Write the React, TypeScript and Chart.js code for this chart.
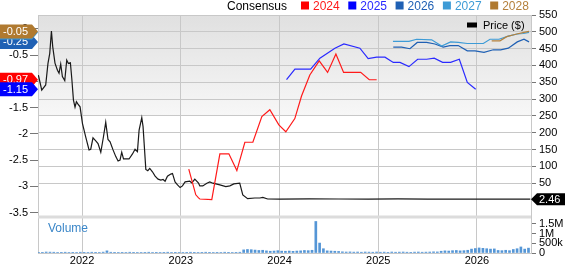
import React, { useEffect, useRef } from 'react';
import { Chart, registerables } from 'chart.js';

Chart.register(...registerables);

const FONT = '"Liberation Sans", Arial, Helvetica, sans-serif';

// ---- data (x values are decimal years) ----
const priceX = [2021.558, 2021.592, 2021.632, 2021.655, 2021.673, 2021.690, 2021.703, 2021.726, 2021.751, 2021.767, 2021.784, 2021.801, 2021.825, 2021.845, 2021.862, 2021.882, 2021.896, 2021.913, 2021.929, 2021.943, 2021.959, 2021.980, 2022.004, 2022.037, 2022.071, 2022.088, 2022.111, 2022.139, 2022.162, 2022.190, 2022.217, 2022.240, 2022.263, 2022.284, 2022.314, 2022.342, 2022.365, 2022.385, 2022.402, 2022.420, 2022.443, 2022.476, 2022.511, 2022.537, 2022.561, 2022.578, 2022.605, 2022.618, 2022.646, 2022.666, 2022.686, 2022.713, 2022.740, 2022.770, 2022.798, 2022.821, 2022.841, 2022.865, 2022.899, 2022.916, 2022.942, 2022.967, 2022.993, 2023.017, 2023.044, 2023.091, 2023.112, 2023.142, 2023.180, 2023.193, 2023.223, 2023.264, 2023.294, 2023.325, 2023.396, 2023.456, 2023.497, 2023.537, 2023.597, 2023.628, 2023.677, 2023.750, 2023.801, 2023.831, 2023.880, 2024.002, 2024.300, 2024.600, 2024.900, 2025.200, 2025.500, 2025.800, 2026.100, 2026.350, 2026.540];
const priceY = [371, 327, 342, 406, 436, 502, 456, 407, 386, 377, 404, 367, 355, 416, 406, 408, 362, 297, 276, 292, 285, 277, 228, 188, 149, 151, 185, 176, 168, 142, 188, 231, 180, 173, 149, 129, 116, 119, 142, 122, 122, 122, 137, 151, 144, 208, 245, 218, 91, 87, 94, 84, 71, 62, 59, 61, 56, 71, 77, 79, 54, 45, 37, 42, 54, 56, 51, 62, 50, 42, 42, 50, 54, 50, 45, 40, 42, 48, 50, 15, 4, 6, 6, 8, 3, 2.5, 3.2, 3.0, 2.8, 3.1, 2.9, 2.6, 2.7, 2.5, 2.46];

const eps2024X = [2023.081, 2023.152, 2023.180, 2023.193, 2023.314, 2023.396, 2023.487, 2023.568, 2023.649, 2023.730, 2023.821, 2023.902, 2023.993, 2024.064, 2024.155, 2024.223, 2024.307, 2024.402, 2024.487, 2024.571, 2024.649, 2024.822, 2024.909, 2024.984];
const eps2024Y = [-2.67, -3.16, -3.22, -3.24, -3.25, -2.38, -2.38, -2.70, -2.16, -2.16, -1.67, -1.54, -1.83, -1.96, -1.71, -1.28, -0.88, -0.61, -0.83, -0.48, -0.83, -0.83, -0.97, -0.97];

const eps2025X = [2024.071, 2024.156, 2024.315, 2024.409, 2024.561, 2024.652, 2024.814, 2024.898, 2024.984, 2025.068, 2025.152, 2025.220, 2025.311, 2025.399, 2025.490, 2025.567, 2025.652, 2025.733, 2025.821, 2025.902, 2025.987];
const eps2025Y = [-0.97, -0.77, -0.77, -0.56, -0.37, -0.29, -0.37, -0.57, -0.54, -0.54, -0.64, -0.64, -0.72, -0.58, -0.58, -0.56, -0.64, -0.64, -0.58, -1.02, -1.15];

const eps2026X = [2025.152, 2025.237, 2025.321, 2025.395, 2025.490, 2025.574, 2025.658, 2025.726, 2025.810, 2025.902, 2025.980, 2026.071, 2026.165, 2026.240, 2026.317, 2026.408, 2026.476, 2026.527];
const eps2026Y = [-0.35, -0.35, -0.38, -0.26, -0.26, -0.29, -0.35, -0.32, -0.32, -0.42, -0.42, -0.45, -0.40, -0.40, -0.37, -0.25, -0.20, -0.25];

const eps2027X = [2025.149, 2025.311, 2025.389, 2025.541, 2025.642, 2025.733, 2025.810, 2025.902, 2025.997, 2026.064, 2026.132, 2026.223, 2026.317, 2026.408, 2026.469, 2026.527];
const eps2027Y = [-0.24, -0.24, -0.20, -0.21, -0.33, -0.25, -0.26, -0.28, -0.28, -0.28, -0.20, -0.20, -0.14, -0.10, -0.09, -0.07];

const eps2028X = [2026.149, 2026.233, 2026.301, 2026.402, 2026.476, 2026.527];
const eps2028Y = [-0.23, -0.23, -0.15, -0.10, -0.07, -0.05];

// volume, one value (thousands of shares) per two-week period from volStart
const volStart = 2021.56;
const volPeriodsPerYear = 26;
const volumeK = [
  40, 35, 50, 45, 40, 30, 35, 40, 30, 35, 30, 40, 35, 30, 40, 35, 30, 45,
  110,
  40, 35, 30, 35, 30, 40, 35, 30, 30, 35, 40, 30, 35, 30, 35, 40, 30, 35, 30, 30,
  35, 40, 35, 30, 35, 40, 35, 30, 35, 30, 40, 35, 30, 35, 40,
  160, 180, 170, 150, 130, 140,
  110, 90, 100, 120, 95, 90, 100, 85,
  100, 110, 130, 120, 140,
  1620, 510, 220,
  110, 100, 90, 80,
  60, 50, 55, 45, 50, 40, 50, 45, 40, 50,
  40, 45, 35, 50, 40, 45, 50, 40, 35, 45, 50, 40, 45, 50, 60, 55,
  90, 110, 100, 120, 130, 110, 120, 140,
  200, 230, 260, 240, 220, 200, 210,
  130, 120, 140, 120,
  180, 220, 310, 200, 250,
];

const yearTicks = [2022, 2023, 2024, 2025, 2026];
const priceTicks = [50, 100, 150, 200, 250, 300, 350, 400, 450, 500, 550];
const epsTicks = [-3.5, -3, -2.5, -2, -1.5, -1, -0.5, 0];
const volTicks = [0, 500000, 1000000, 1500000];

const seriesNames = ['2024', '2025', '2026', '2027', '2028'];
const seriesColors = ['#ff1a1a', '#2a2aff', '#1f60b4', '#3d9bd6', '#b5813c'];
const tagColors = ['#ff0000', '#0000ff', '#1f60b4', '#3d9bd6', '#b07a30'];
const epsX = [eps2024X, eps2025X, eps2026X, eps2027X, eps2028X];
const epsY = [eps2024Y, eps2025Y, eps2026Y, eps2027Y, eps2028Y];

const pts = (xs: number[], ys: number[]) => xs.map((x, i) => ({ x, y: ys[i] }));

function leftTag(ctx: CanvasRenderingContext2D, y: number, tip: number, color: string, text: string) {
  ctx.beginPath();
  ctx.moveTo(0, y - 7);
  ctx.lineTo(tip - 6, y - 7);
  ctx.lineTo(tip, y);
  ctx.lineTo(tip - 6, y + 7);
  ctx.lineTo(0, y + 7);
  ctx.closePath();
  ctx.fillStyle = color;
  ctx.fill();
  ctx.fillStyle = '#ffffff';
  ctx.font = `11px ${FONT}`;
  ctx.textAlign = 'left';
  ctx.textBaseline = 'middle';
  ctx.fillText(text, 3, y + 0.5);
}

function rightTag(ctx: CanvasRenderingContext2D, y: number, tip: number, w: number, color: string, text: string) {
  ctx.beginPath();
  ctx.moveTo(tip, y);
  ctx.lineTo(tip + 6, y - 6);
  ctx.lineTo(w, y - 6);
  ctx.lineTo(w, y + 6);
  ctx.lineTo(tip + 6, y + 6);
  ctx.closePath();
  ctx.fillStyle = color;
  ctx.fill();
  ctx.fillStyle = '#ffffff';
  ctx.font = `11px ${FONT}`;
  ctx.textAlign = 'left';
  ctx.textBaseline = 'middle';
  ctx.fillText(text, tip + 8, y + 0.5);
}

const decor = {
  id: 'decor',
  beforeDraw(chart: any) {
    const { ctx, chartArea: ca } = chart;
    const yP = chart.scales.yPrice;
    const y250 = yP.getPixelForValue(250);
    ctx.save();
    const g = ctx.createLinearGradient(0, ca.top, 0, y250);
    g.addColorStop(0, '#e0e0e0');
    g.addColorStop(1, '#f7f7f7');
    ctx.fillStyle = g;
    ctx.fillRect(ca.left, ca.top, ca.right - ca.left, y250 - ca.top);
    ctx.restore();
  },
  beforeDatasetsDraw(chart: any) {
    const { ctx, chartArea: ca } = chart;
    const yP = chart.scales.yPrice;
    ctx.save();
    ctx.fillStyle = '#dcdcdc';
    ctx.fillRect(ca.left, yP.bottom - 1.5, ca.right - ca.left, 3);
    ctx.fillStyle = '#3a86c8';
    ctx.font = `12px ${FONT}`;
    ctx.textAlign = 'left';
    ctx.textBaseline = 'middle';
    ctx.fillText('Volume', ca.left + 10, yP.bottom + 12);
    ctx.restore();
  },
  afterDraw(chart: any) {
    const { ctx, chartArea: ca, width } = chart;
    const yE = chart.scales.yEps;
    const yP = chart.scales.yPrice;
    ctx.save();
    // left value tags (drawn so that the later years sit on top)
    for (let i = 0; i < epsY.length; i++) {
      const ys = epsY[i];
      const v = ys[ys.length - 1];
      leftTag(ctx, yE.getPixelForValue(v), ca.left, tagColors[i], v.toFixed(2));
    }
    // price tag
    const lastPrice = priceY[priceY.length - 1];
    rightTag(ctx, yP.getPixelForValue(lastPrice), ca.right, width, '#000000', lastPrice.toFixed(2));

    // top legend
    ctx.font = `12px ${FONT}`;
    ctx.textAlign = 'left';
    ctx.textBaseline = 'alphabetic';
    ctx.fillStyle = '#000000';
    ctx.fillText('Consensus', 227, 10);
    let x = 301;
    seriesNames.forEach((name, i) => {
      ctx.fillStyle = tagColors[i];
      ctx.fillRect(x, 1.5, 8, 8);
      ctx.fillStyle = seriesColors[i];
      ctx.fillText(name, x + 12, 10);
      x += 12 + ctx.measureText(name).width + 8.6;
    });

    // price legend in plot
    ctx.fillStyle = '#000000';
    ctx.fillRect(467, 22.5, 10, 5);
    ctx.font = `11px ${FONT}`;
    ctx.textBaseline = 'middle';
    ctx.fillText('Price ($)', 483, 25.5);
    ctx.restore();
  },
};

export default function App() {
  const ref = useRef<HTMLCanvasElement | null>(null);
  useEffect(() => {
    document.body.style.margin = '0';
    const canvas = ref.current;
    if (!canvas) return;
    const volData = volumeK.map((v, i) => ({ x: volStart + i / volPeriodsPerYear, y: v * 1000 }));
    const datasets: any[] = [];
    for (let i = 4; i >= 0; i--) {
      datasets.push({
        type: 'line',
        label: seriesNames[i],
        data: pts(epsX[i], epsY[i]),
        yAxisID: 'yEps',
        borderColor: seriesColors[i],
        borderWidth: 1.2,
        pointRadius: 0,
        tension: 0,
        order: 1,
      });
    }
    datasets.push({
      type: 'line',
      label: 'Price ($)',
      data: pts(priceX, priceY),
      yAxisID: 'yPrice',
      borderColor: '#1a1a1a',
      borderWidth: 1.2,
      pointRadius: 0,
      tension: 0,
      order: 2,
    });
    datasets.push({
      type: 'bar',
      label: 'Volume',
      data: volData,
      yAxisID: 'yVol',
      backgroundColor: '#5596d6',
      barThickness: 2,
      order: 3,
    });

    const tickFont = { family: FONT, size: 11 };
    const chart = new Chart(canvas, {
      type: 'line',
      data: { datasets },
      options: {
        animation: false,
        responsive: false,
        devicePixelRatio: 1,
        events: [],
        layout: { padding: { top: 15, left: 0, right: 0, bottom: 0 } },
        plugins: { legend: { display: false }, tooltip: { enabled: false } },
        scales: {
          x: {
            type: 'linear',
            offset: false,
            min: 2021.554,
            max: 2026.547,
            afterBuildTicks: (s: any) => { s.ticks = yearTicks.map((v) => ({ value: v })); },
            afterFit: (s: any) => { s.height = 11; },
            ticks: { font: tickFont, color: '#000', padding: 1, maxRotation: 0, autoSkip: false, callback: (v: any) => String(v) },
            grid: { color: '#c8c8c8', drawTicks: false, offset: false },
            border: { color: '#c8c8c8' },
          },
          yEps: {
            type: 'linear',
            position: 'left',
            min: -4.268,
            max: 0.262,
            afterBuildTicks: (s: any) => { s.ticks = epsTicks.map((v) => ({ value: v })); },
            afterFit: (s: any) => { s.width = 38; },
            ticks: { font: tickFont, color: '#000', padding: 2, autoSkip: false, callback: (v: any) => String(v) },
            grid: { drawOnChartArea: false, tickLength: 8, tickColor: '#777' },
            border: { color: '#c8c8c8' },
          },
          yPrice: {
            type: 'linear',
            position: 'right',
            stack: 'right',
            stackWeight: 202,
            min: -50.5,
            max: 550,
            afterBuildTicks: (s: any) => { s.ticks = priceTicks.map((v) => ({ value: v })); },
            afterFit: (s: any) => { s.width = 34; },
            ticks: { font: tickFont, color: '#000', padding: 3, autoSkip: false, callback: (v: any) => String(v) },
            grid: { color: '#c8c8c8', tickLength: 5, tickColor: '#777' },
            border: { color: '#c8c8c8' },
          },
          yVol: {
            type: 'linear',
            position: 'right',
            stack: 'right',
            stackWeight: 36,
            min: 0,
            max: 1850000,
            afterBuildTicks: (s: any) => { s.ticks = volTicks.map((v) => ({ value: v })); },
            afterFit: (s: any) => { s.width = 34; },
            ticks: {
              font: tickFont,
              color: '#000',
              padding: 3,
              autoSkip: false,
              callback: (v: any) => (v === 0 ? '0' : v >= 1000000 ? `${v / 1000000}M` : `${v / 1000}k`),
            },
            grid: { drawOnChartArea: false, tickLength: 5, tickColor: '#777' },
            border: { color: '#c8c8c8' },
          },
        },
      } as any,
      plugins: [decor],
    });
    return () => chart.destroy();
  }, []);
  return (
    <div style={{ position: 'fixed', left: 0, top: 0, width: 565, height: 264, background: '#fff' }}>
      <canvas ref={ref} width={565} height={264} style={{ display: 'block', width: 565, height: 264 }} />
    </div>
  );
}
